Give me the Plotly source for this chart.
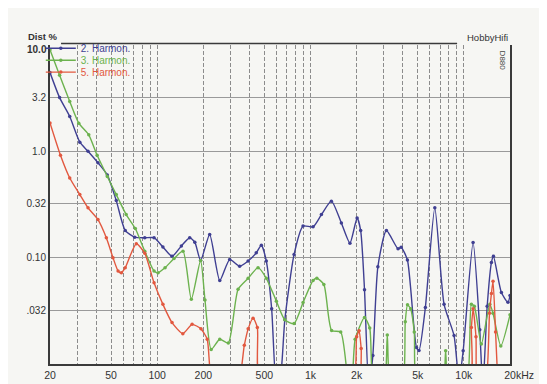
import plotly.graph_objects as go

# ---- data (frequency in Hz, distortion in %) ----
f_h2 = [20, 23.1, 26.9, 31.3, 35.4, 41.1, 47.3, 54.1, 61.9, 71.4, 83, 95.4, 109, 125, 143.8, 163, 176, 192, 220, 256,
        297, 345, 392, 443, 478, 515, 558, 600, 640, 680, 781, 894, 1039, 1178, 1368, 1589, 1808, 2013, 2124, 2250,
        2400, 2550, 2750, 3126, 3724, 3900, 4285, 4908, 5100, 5612, 6466, 7431, 8633, 9300, 9900, 11490, 12700,
        13300, 14200, 15130, 15600, 17580, 19400, 20000]
d_h2 = [5.5, 3.2, 2.13, 1.22, 1.0, 0.78, 0.60, 0.344, 0.18, 0.156, 0.154, 0.154, 0.126, 0.103, 0.129, 0.154, 0.14, 0.094, 0.165, 0.061,
        0.096, 0.083, 0.093, 0.111, 0.131, 0.093, 0.033, 0.006, 0.008, 0.026, 0.107, 0.198, 0.195, 0.254, 0.34, 0.212, 0.137, 0.236, 0.18, 0.05,
        0.006, 0.012, 0.082, 0.18, 0.121, 0.125, 0.095, 0.0143, 0.0134, 0.034, 0.294, 0.0364, 0.0185, 0.007, 0.0133, 0.139, 0.021,
        0.006, 0.035, 0.09, 0.103, 0.047, 0.038, 0.044]

f_h3 = [20, 23.1, 26.9, 30.8, 35.8, 40.6, 47.3, 54.1, 62.8, 72, 83, 95.4, 101.4, 112.6, 128.8, 147.4, 167, 192, 205, 225,
        256, 291, 337, 392, 455, 515, 599, 680, 781, 894, 1039, 1100, 1222, 1373, 1574, 1760, 1850, 1955, 2250, 2434,
        2600, 3000, 3168, 3350, 3950, 4150, 4293, 4500, 4750, 5000, 7200, 7608, 8000, 10300, 11200, 11700, 13010,
        14770, 15500, 17420, 20000]
d_h3 = [9.0, 5.2, 2.94, 1.84, 1.43, 0.917, 0.58, 0.392, 0.254, 0.188, 0.115, 0.0748, 0.072, 0.0806, 0.098, 0.115, 0.0406, 0.094, 0.04, 0.0137,
        0.0171, 0.0158, 0.0504, 0.064, 0.0806, 0.064, 0.039, 0.026, 0.024, 0.0378, 0.061, 0.064, 0.056, 0.0207, 0.020, 0.007, 0.006, 0.0171, 0.0273, 0.0218,
        0.006, 0.006, 0.0187, 0.006, 0.006, 0.025, 0.036, 0.033, 0.02, 0.006, 0.006, 0.0133, 0.006, 0.006, 0.0364, 0.035, 0.0154,
        0.0364, 0.03, 0.0148, 0.029]

f_h5 = [20, 23.4, 26.9, 31.3, 35.4, 41.1, 46.6, 51.5, 55.6, 58.4, 61.9, 73.1, 83, 95.4, 109, 125, 147, 169, 193, 212,
        233, 330, 370, 392, 422, 450, 478, 1850, 2000, 2075, 2140, 2250, 10660, 11200, 11490, 12000, 12360,
        13700, 14700, 15130, 15500, 16100, 16720]
d_h5 = [1.85, 0.92, 0.562, 0.392, 0.294, 0.228, 0.154, 0.1, 0.075, 0.072, 0.0806, 0.135, 0.11, 0.058, 0.0364, 0.0245, 0.0193, 0.0236, 0.0214, 0.0171,
        0.006, 0.006, 0.015, 0.0214, 0.027, 0.022, 0.006, 0.006, 0.018, 0.0205, 0.014, 0.006, 0.006, 0.022, 0.033, 0.018, 0.006,
        0.006, 0.03, 0.046, 0.06, 0.02, 0.006]

series_names = ["2. Harmon.", "3. Harmon.", "5. Harmon."]
series_colors = ["#3f3f92", "#6cb24e", "#e2583f"]

x_tickvals = [20, 30, 40, 50, 60, 70, 80, 90, 100, 200, 300, 400, 500, 600, 700, 800, 900,
              1000, 2000, 3000, 4000, 5000, 6000, 7000, 8000, 9000, 10000, 20000]
x_ticktext = ["20", "", "", "50", "", "", "", "", "100", "200", "", "", "500", "", "", "", "",
              "1k", "2k", "", "", "5k", "", "", "", "", "10k", "20"]
y_tickvals = [10, 3.2, 1.0, 0.32, 0.10, 0.032]
y_ticktext = ["", "3.2", "1.0", "0.32", "0.10", ".032"]

FONT = "Arial, Liberation Sans, sans-serif"
BG = "#f6f6f3"

legend_ids = ["legend", "legend2", "legend3"]
legend_y = [0.990, 0.952, 0.915]

fig = go.Figure()
for fx, dy, name, col, lg in zip([f_h2, f_h3, f_h5], [d_h2, d_h3, d_h5], series_names, series_colors, legend_ids):
    fig.add_trace(go.Scatter(
        x=fx, y=dy, mode="lines+markers",
        name=f"<span style='color:{col}'>{name}</span>",
        legend=lg,
        line=dict(color=col, width=1.4, shape="spline", smoothing=0.6),
        marker=dict(color=col, size=3.5),
    ))

legend_common = dict(x=-0.02, xanchor="left", yanchor="middle", bgcolor="rgba(0,0,0,0)",
                     font=dict(size=10, family=FONT), itemwidth=30)

fig.update_layout(
    width=547, height=384,
    margin=dict(l=42, r=45, t=37, b=28),
    paper_bgcolor=BG, plot_bgcolor=BG,
    font=dict(family=FONT, size=10, color="#333333"),
    showlegend=True,
    legend=dict(y=legend_y[0], **legend_common),
    legend2=dict(y=legend_y[1], **legend_common),
    legend3=dict(y=legend_y[2], **legend_common),
    xaxis=dict(type="log", range=[1.30103, 4.30103],
               tickvals=x_tickvals, ticktext=x_ticktext, ticks="",
               showgrid=True, gridcolor="#8c8c8c", gridwidth=1, griddash="4px,2px",
               showline=True, linecolor="#3a3a3a", linewidth=2,
               zeroline=False, tickfont=dict(size=10.5, color="#333")),
    yaxis=dict(type="log", range=[-2, 1],
               tickvals=y_tickvals, ticktext=y_ticktext, ticks="",
               showgrid=True, gridcolor="#9a9a9a", gridwidth=1,
               showline=True, linecolor="#3a3a3a", linewidth=2, mirror=True,
               zeroline=False, tickfont=dict(size=10, color="#333")),
    shapes=[dict(type="line", xref="paper", yref="paper", x0=0.024, x1=0.885, y0=1.005, y1=1.005,
                 line=dict(color="#3a3a3a", width=1.5))],
    annotations=[
        dict(text="<b>Dist %</b>", xref="paper", yref="paper", x=-0.053, y=1.0, xanchor="left", yanchor="bottom",
             yshift=1, showarrow=False, font=dict(size=9.5, color="#333")),
        dict(text="<b>10.0</b>", xref="paper", yref="paper", x=0, y=1.0, xanchor="right", yanchor="middle",
             xshift=-1, yshift=-4, showarrow=False, font=dict(size=10, color="#333")),
        dict(text="HobbyHifi", xref="paper", yref="paper", x=1.0, y=1.0, xanchor="right", yanchor="bottom",
             showarrow=False, font=dict(size=9.5, color="#333")),
        dict(text="D880", xref="paper", yref="paper", x=0.998, y=0.99, xanchor="right", yanchor="top",
             textangle=90, showarrow=False, font=dict(size=8, color="#444")),
        dict(text="kHz", xref="paper", yref="paper", x=1.0, y=0, xanchor="left", yanchor="top",
             xshift=4, yshift=-3, showarrow=False, font=dict(size=10.5, color="#333")),
    ],
)

fig.write_html("out.html")
